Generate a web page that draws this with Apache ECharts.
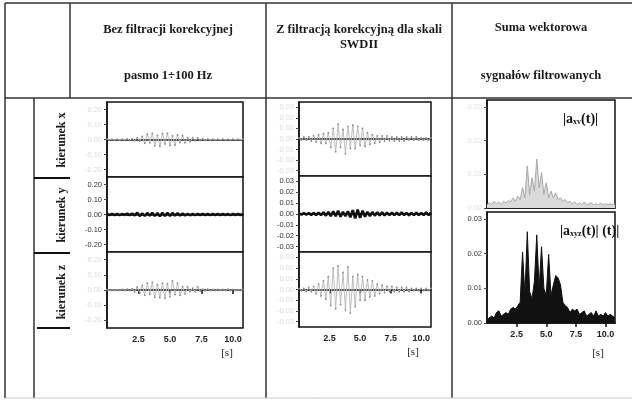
<!DOCTYPE html>
<html>
<head>
<meta charset="utf-8">
<script src="https://cdn.jsdelivr.net/npm/echarts@6/dist/echarts.min.js"></script>
<style>
  html, body { margin: 0; padding: 0; background: #fff; }
  #main { width: 632px; height: 400px; }
</style>
</head>
<body>
<div id="main"></div>
<script>
// sampling step of the read-off signals [s]
var krok = 0.2;

// x-axis ticks [s]
var czasTicks = [2.5, 5, 7.5, 10];

// column 1: bez filtracji korekcyjnej
var bezX = [0.002,-0.002,0.003,-0.002,0.002,-0.003,0.003,-0.002,0.004,-0.003,
  0.006,-0.008,0.012,-0.01,0.02,
  -0.025,0.035,-0.022,0.04, -0.042,0.028,-0.045,0.04, -0.03,0.042,-0.04,0.025,
  -0.038,0.03,-0.02,0.025, -0.022,0.014,-0.015,0.012, -0.008,0.01,-0.007,0.005,
  -0.005,0.004,-0.003,0.003, -0.003,0.002,-0.002,0.003, -0.002,0.002,-0.003,0.002,
  -0.002,0.002,-0.002,0.002];
var bezY = [0.003,-0.003,0.004,-0.003,0.003,-0.004,0.004,-0.003,0.005,-0.004,
  0.006,-0.006,0.012,-0.01,0.008,
  -0.009,0.01,-0.008,0.011, -0.01,0.009,-0.012,0.011, -0.01,0.012,-0.009,0.01,
  -0.008,0.009,-0.007,0.006, -0.006,0.005,-0.005,0.004, -0.004,0.004,-0.003,0.004,
  -0.003,0.003,-0.004,0.003, -0.003,0.004,-0.003,0.003, -0.003,0.003,-0.004,0.004,
  -0.003,0.004,-0.003,0.003];
var bezZ = [0.002,-0.003,0.003,-0.002,0.003,-0.003,0.004,-0.003,0.005,-0.004,
  0.008,-0.012,0.02,-0.018,0.03,
  -0.035,0.045,-0.028,0.05, -0.048,0.035,-0.05,0.045, -0.055,0.04,-0.045,0.06,
  -0.03,0.045,-0.035,0.022, -0.025,0.02,-0.012,0.012, -0.01,0.02,-0.008,0.006,
  -0.005,0.005,-0.004,0.004, -0.004,0.004,-0.003,0.004, -0.003,0.005,-0.004,0.004,
  -0.003,0.003,-0.003,0.003];

// column 2: z filtracją korekcyjną SWDII
var swdX = [0.001,-0.001,0.002,-0.001,0.002,-0.002,0.003,-0.003,0.004,-0.004,
  0.005,-0.004,0.006,-0.008,0.01,
  -0.012,0.014,-0.008,0.009, -0.014,0.012,-0.009,0.013, -0.009,0.012,-0.006,0.01,
  -0.007,0.006,-0.005,0.004, -0.004,0.003,-0.003,0.003, -0.002,0.003,-0.002,0.002,
  -0.002,0.002,-0.002,0.002, -0.002,0.002,-0.001,0.002, -0.001,0.002,-0.001,0.001,
  -0.001,0.001,-0.001,0.001];
var swdY = [0.0005,-0.0005,0.0008,-0.0006,0.0008,-0.0008,0.001,-0.001,0.0012,-0.001,
  0.0015,-0.0015,0.002,-0.002,0.0025,
  -0.002,0.003,-0.0025,0.002, -0.002,0.0025,-0.003,0.0035, -0.004,0.004,-0.0035,0.003,
  -0.0025,0.002,-0.002,0.0018, -0.0015,0.0015,-0.0012,0.0015, -0.0012,0.0012,-0.001,0.0012,
  -0.001,0.0012,-0.001,0.0015, -0.001,0.001,-0.0012,0.001, -0.001,0.0012,-0.001,0.001,
  -0.001,0.0015,-0.001,0.0012];
var swdZ = [0.001,-0.001,0.001,-0.002,0.002,-0.002,0.003,-0.004,0.005,-0.006,
  0.008,-0.009,0.012,-0.015,0.02,
  -0.018,0.022,-0.014,0.016, -0.019,0.021,-0.022,0.012, -0.016,0.014,-0.01,0.012,
  -0.01,0.009,-0.007,0.008, -0.006,0.005,-0.004,0.004, -0.003,0.003,-0.002,0.003,
  -0.002,0.002,-0.002,0.002, -0.002,0.002,-0.002,0.001, -0.001,0.001,-0.001,0.001,
  -0.001,0.001,-0.001,0.001];

// column 3: suma wektorowa
var sumaXY = [0.001,0.0015,0.001,0.002,0.0012,0.0018,0.001,0.002,0.0015,0.0022,
  0.0018,0.003,0.002,0.0035,0.0025,
  0.006,0.003,0.0125,0.004, 0.009,0.005,0.0145,0.006, 0.0105,0.004,0.0075,0.003,
  0.005,0.003,0.0045,0.0025, 0.003,0.002,0.0025,0.0015, 0.002,0.0012,0.0018,0.001,
  0.0015,0.001,0.0018,0.001, 0.0012,0.0015,0.001,0.0012, 0.001,0.0014,0.001,0.0012,
  0.001,0.0012,0.001,0.001];
var sumaXYZ = [0.001,0.0015,0.002,0.0015,0.003,0.0035,0.002,0.0025,0.003,0.0025,
  0.004,0.0045,0.004,0.005,0.006,
  0.0205,0.008,0.0263,0.009, 0.007,0.012,0.0254,0.01, 0.022,0.01,0.008,0.0198,
  0.008,0.011,0.0137,0.013, 0.011,0.006,0.005,0.0045, 0.003,0.004,0.0035,0.004,
  0.0025,0.003,0.0035,0.002, 0.0025,0.003,0.002,0.0035, 0.002,0.0025,0.002,0.003,
  0.002,0.0025,0.002,0.0015];

var ticksA = [-0.2, -0.1, 0, 0.1, 0.2];
var ticksB = [-0.03, -0.02, -0.01, 0, 0.01, 0.02, 0.03];
var ticksC = [0, 0.01, 0.02, 0.03];

function pary(vals) {
  return vals.map(function (v, i) { return [+(i * krok).toFixed(1), v]; });
}

var serif = '"Liberation Serif", "DejaVu Serif", serif';
var sans = '"Liberation Sans", Arial, sans-serif';

// panel layout: [left, top, width, height, yMin, yMax, yTicks, labelColor, bottomRow, data, kind]
var panele = [
  [107, 102, 136, 75, -0.25, 0.25, ticksA, '#dcdcdc', false, bezX, 'grey'],
  [107, 177, 136, 75, -0.25, 0.25, ticksA, '#333', false, bezY, 'black'],
  [107, 252, 136, 76, -0.25, 0.25, ticksA, '#dcdcdc', true, bezZ, 'grey'],
  [299, 102, 132, 74, -0.035, 0.035, ticksB, '#dcdcdc', false, swdX, 'grey'],
  [299, 176, 132, 76, -0.035, 0.035, ticksB, '#333', false, swdY, 'black'],
  [299, 252, 132, 75, -0.035, 0.035, ticksB, '#dcdcdc', true, swdZ, 'grey'],
  [487, 100, 128, 108, 0, 0.032, ticksC, '#e4e4e4', false, sumaXY, 'lightarea'],
  [487, 212, 128, 111, 0, 0.032, ticksC, '#333', true, sumaXYZ, 'area']
];

var grid = [], xAxis = [], yAxis = [], series = [];
panele.forEach(function (p, i) {
  grid.push({ left: p[0], top: p[1], width: p[2], height: p[3],
    show: true, borderColor: '#111', borderWidth: 1.5, backgroundColor: '#fff' });
  xAxis.push({
    type: 'value', gridIndex: i, min: 0, max: 10.8,
    axisLine: { show: true, lineStyle: { color: '#111', width: 1.5 } },
    axisTick: { show: p[8], length: 4, customValues: czasTicks, lineStyle: { color: '#111', width: 1.5 } },
    axisLabel: { show: p[8], customValues: czasTicks, margin: 7, color: '#222',
      fontFamily: sans, fontWeight: 'bold', fontSize: 9,
      formatter: function (v) { return v.toFixed(1); } },
    splitLine: { show: false }
  });
  yAxis.push({
    type: 'value', gridIndex: i, min: p[4], max: p[5],
    axisLine: { show: true, lineStyle: { color: '#111', width: 1.5 } },
    axisTick: { show: true, length: 3, customValues: p[6], lineStyle: { color: '#444' } },
    axisLabel: { show: true, customValues: p[6], margin: 5, color: p[7],
      fontFamily: sans, fontSize: 7.5,
      formatter: function (v) { return v.toFixed(2); } },
    splitLine: { show: false }
  });
  var s = { type: 'line', xAxisIndex: i, yAxisIndex: i, data: pary(p[9]),
    showSymbol: false, animation: false, silent: true };
  if (p[10] === 'grey') {
    s.lineStyle = { color: '#bdbdbd', width: 1 };
    s.showSymbol = true; s.symbol = 'circle'; s.symbolSize = 1.8;
    s.itemStyle = { color: '#8c8c8c' };
  } else if (p[10] === 'black') {
    s.lineStyle = { color: '#111', width: 2.6 };
  } else if (p[10] === 'lightarea') {
    s.lineStyle = { color: '#a8a8a8', width: 1 };
    s.areaStyle = { color: '#dadada', opacity: 1 };
  } else {
    s.lineStyle = { color: '#111', width: 1 };
    s.areaStyle = { color: '#111', opacity: 1 };
  }
  series.push(s);
});

function linia(x1, y1, x2, y2, w, c) {
  return { type: 'line', silent: true, z: 100,
    shape: { x1: x1, y1: y1, x2: x2, y2: y2 },
    style: { stroke: c || '#333', lineWidth: w || 1.5 } };
}
function tekst(t, x, y, font, rot) {
  return { type: 'text', silent: true, z: 100, x: x, y: y, rotation: rot || 0,
    style: { text: t, font: font, fill: '#1a1a1a', align: 'center', verticalAlign: 'middle' } };
}

var hdr = 'bold 12.5px ' + serif;
var graphic = [
  linia(5, 3, 632, 3),
  linia(5, 98, 632, 98),
  linia(5, 3, 5, 398),
  linia(34, 98, 34, 398),
  linia(70, 3, 70, 98),
  linia(266, 3, 266, 398),
  linia(452, 3, 452, 398),
  linia(34, 178, 70, 178, 2, '#111'),
  linia(34, 253, 70, 253, 2, '#111'),
  linia(37, 328, 70, 328, 2, '#111'),
  linia(5, 398, 632, 398, 1, '#c8c8c8'),
  tekst('Bez filtracji korekcyjnej', 168, 30, hdr),
  tekst('pasmo 1÷100 Hz', 168, 76, hdr),
  tekst('Z filtracją korekcyjną dla skali', 359, 30, hdr),
  tekst('SWDII', 359, 45, hdr),
  tekst('Suma wektorowa', 541, 28, hdr),
  tekst('sygnałów filtrowanych', 541, 76, hdr),
  tekst('kierunek x', 62, 140, 'bold 12px ' + serif, Math.PI / 2),
  tekst('kierunek y', 62, 215, 'bold 12px ' + serif, Math.PI / 2),
  tekst('kierunek z', 62, 292, 'bold 12px ' + serif, Math.PI / 2),
  tekst('[s]', 227, 353, '11px ' + serif),
  tekst('[s]', 413, 352, '11px ' + serif),
  tekst('[s]', 598, 353, '11px ' + serif),
  { type: 'text', silent: true, z: 100, x: 563, y: 112,
    style: { text: '{b||a}{s|xv}{b|(t)|}', font: 'bold 13px ' + serif, fill: '#111',
      rich: { b: { fontFamily: serif, fontWeight: 'bold', fontSize: 14, fill: '#111' },
              s: { fontFamily: serif, fontWeight: 'bold', fontSize: 8, fill: '#111', verticalAlign: 'bottom', padding: [6, 0, 0, 0] } } } },
  { type: 'text', silent: true, z: 100, x: 560, y: 224,
    style: { text: '{b||a}{s|xyz}{b|(t)| (t)|}', font: 'bold 13px ' + serif, fill: '#111',
      rich: { b: { fontFamily: serif, fontWeight: 'bold', fontSize: 14, fill: '#111' },
              s: { fontFamily: serif, fontWeight: 'bold', fontSize: 8, fill: '#111', verticalAlign: 'bottom', padding: [6, 0, 0, 0] } } } }
];

var myChart = echarts.init(document.getElementById('main'), null, { renderer: 'canvas' });
myChart.setOption({
  animation: false,
  backgroundColor: '#fff',
  grid: grid,
  xAxis: xAxis,
  yAxis: yAxis,
  series: series,
  graphic: graphic
});
</script>
</body>
</html>
